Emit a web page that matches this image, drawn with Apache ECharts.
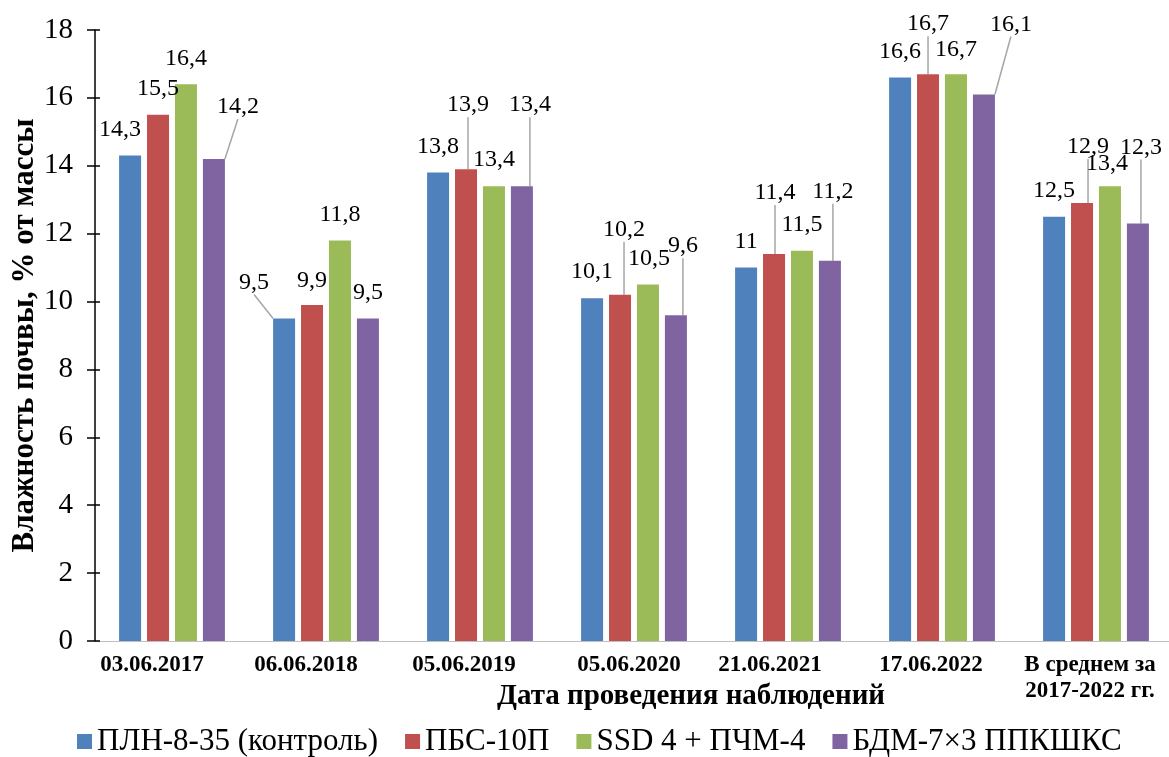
<!DOCTYPE html>
<html>
<head>
<meta charset="utf-8">
<script src="https://cdn.jsdelivr.net/npm/echarts@6/dist/echarts.min.js"></script>
<style>
  html, body { margin: 0; padding: 0; background: #ffffff; }
  #chart { width: 1169px; height: 757px; }
</style>
</head>
<body>
<div id="chart"></div>
<script>
// Observation dates (last category is the multi-year mean)
const categories = ['03.06.2017', '06.06.2018', '05.06.2019', '05.06.2020', '21.06.2021', '17.06.2022', 'В среднем за\n2017-2022 гг.'];

// Soil moisture, % of mass, per implement
const seriesNames = ['ПЛН-8-35 (контроль)', 'ПБС-10П', 'SSD 4 + ПЧМ-4', 'БДМ-7×3 ППКШКС'];
const plnValues = [14.3, 9.5, 13.8, 10.1, 11, 16.6, 12.5];
const pbsValues = [15.5, 9.9, 13.9, 10.2, 11.4, 16.7, 12.9];
const ssdValues = [16.4, 11.8, 13.4, 10.5, 11.5, 16.7, 13.4];
const bdmValues = [14.2, 9.5, 13.4, 9.6, 11.2, 16.1, 12.3];

// Y axis ticks
const yMin = 0, yMax = 18, yStep = 2;

// Styling: colours, label nudges [dx, dy] and which labels get a leader line
const colors = ['#4f81bd', '#c0504d', '#9bbb59', '#8064a2'];
const labelNudge = [
  [[-10, 0], [-30, -10], [0, 0], [0, 0], [0, 0], [0, 0], [0, 0]],
  [[0, 0], [0, 2], [2, -38], [4, -39], [1, -35], [0, -24], [6, -30]],
  [[0, 0], [0, 0], [0, 0], [1, 0], [0, 0], [0, 2], [-3, 4]],
  [[24, -26], [0, 0], [8, -55], [7, -43], [3, -43], [27, -44], [3, -50]]
];
const leaderLine = [
  [false, true, false, false, false, false, false],
  [false, false, true, true, true, true, true],
  [false, false, false, false, false, false, false],
  [true, false, true, true, true, true, true]
];
// horizontal shift of each category caption (px, negative = left)
const captionShift = [-20, -20, -16, -5, -18, -11, -6];

const serif = "'Liberation Serif', 'Times New Roman', serif";

const captionRich = {};
captionShift.forEach(function (s, i) {
  const pad = Math.abs(s) * 2;
  captionRich['c' + i] = {
    fontFamily: serif, fontWeight: 'bold', fontSize: 23, color: '#000',
    lineHeight: 26,
    padding: s < 0 ? [0, pad, 0, 0] : [0, 0, 0, pad]
  };
});

const allValues = [plnValues, pbsValues, ssdValues, bdmValues];

const series = allValues.map(function (vals, si) {
  return {
    name: seriesNames[si],
    type: 'bar',
    barWidth: 22,
    barGap: '27%',
    itemStyle: { color: colors[si] },
    data: vals.map(function (v, i) {
      return { value: v, labelLine: { show: leaderLine[si][i] } };
    }),
    label: {
      show: true,
      position: 'top',
      distance: 14,
      fontFamily: serif,
      fontSize: 24,
      color: '#000',
      formatter: function (p) { return String(p.value).replace('.', ','); }
    },
    labelLine: {
      show: false,
      lineStyle: { color: '#a6a6a6', width: 1.5 }
    },
    labelLayout: function (p) {
      const n = labelNudge[si][p.dataIndex];
      return { dx: n[0], dy: n[1] };
    }
  };
});

const chart = echarts.init(document.getElementById('chart'), null, { renderer: 'canvas' });
chart.setOption({
  animation: false,
  backgroundColor: '#ffffff',
  grid: { left: 95, right: -4, top: 30, bottom: 116, containLabel: false, outerBoundsMode: 'none' },
  legend: {
    data: seriesNames,
    left: 72,
    top: 721,
    icon: 'rect',
    itemWidth: 15,
    itemHeight: 15,
    itemGap: 27,
    textStyle: { fontFamily: serif, fontSize: 31, color: '#000' }
  },
  xAxis: {
    type: 'category',
    data: categories,
    name: 'Дата проведения наблюдений',
    nameLocation: 'middle',
    nameGap: 41,
    nameMoveOverlap: false,
    nameTextStyle: {
      fontFamily: serif, fontWeight: 'bold', fontSize: 29, color: '#000',
      padding: [0, 0, 0, 114]
    },
    axisLine: { show: true, lineStyle: { color: '#bfbfbf', width: 1 } },
    axisTick: { show: false },
    axisLabel: {
      interval: 0,
      margin: 11,
      formatter: function (val, idx) {
        return val.split('\n').map(function (line) { return '{c' + idx + '|' + line + '}'; }).join('\n');
      },
      rich: captionRich
    },
    splitLine: { show: false }
  },
  yAxis: [
    {
      type: 'value',
      min: yMin, max: yMax, interval: yStep,
      name: 'Влажность почвы, % от массы',
      nameLocation: 'middle',
      nameGap: 55,
      nameMoveOverlap: false,
      nameTextStyle: { fontFamily: serif, fontWeight: 'bold', fontSize: 31, color: '#000' },
      axisLine: { show: true, lineStyle: { color: '#000', width: 1.5 } },
      axisTick: { show: true, inside: false, length: 8, lineStyle: { color: '#000', width: 1.5 } },
      axisLabel: { margin: 22, fontFamily: serif, fontSize: 29, color: '#000' },
      splitLine: { show: false }
    },
    {
      // inner half of the crossing tick marks
      type: 'value',
      position: 'left',
      min: yMin, max: yMax, interval: yStep,
      axisLine: { show: false },
      axisTick: { show: true, inside: true, length: 5, lineStyle: { color: '#000', width: 1.5 } },
      axisLabel: { show: false },
      splitLine: { show: false }
    }
  ],
  series: series
});
</script>
</body>
</html>
